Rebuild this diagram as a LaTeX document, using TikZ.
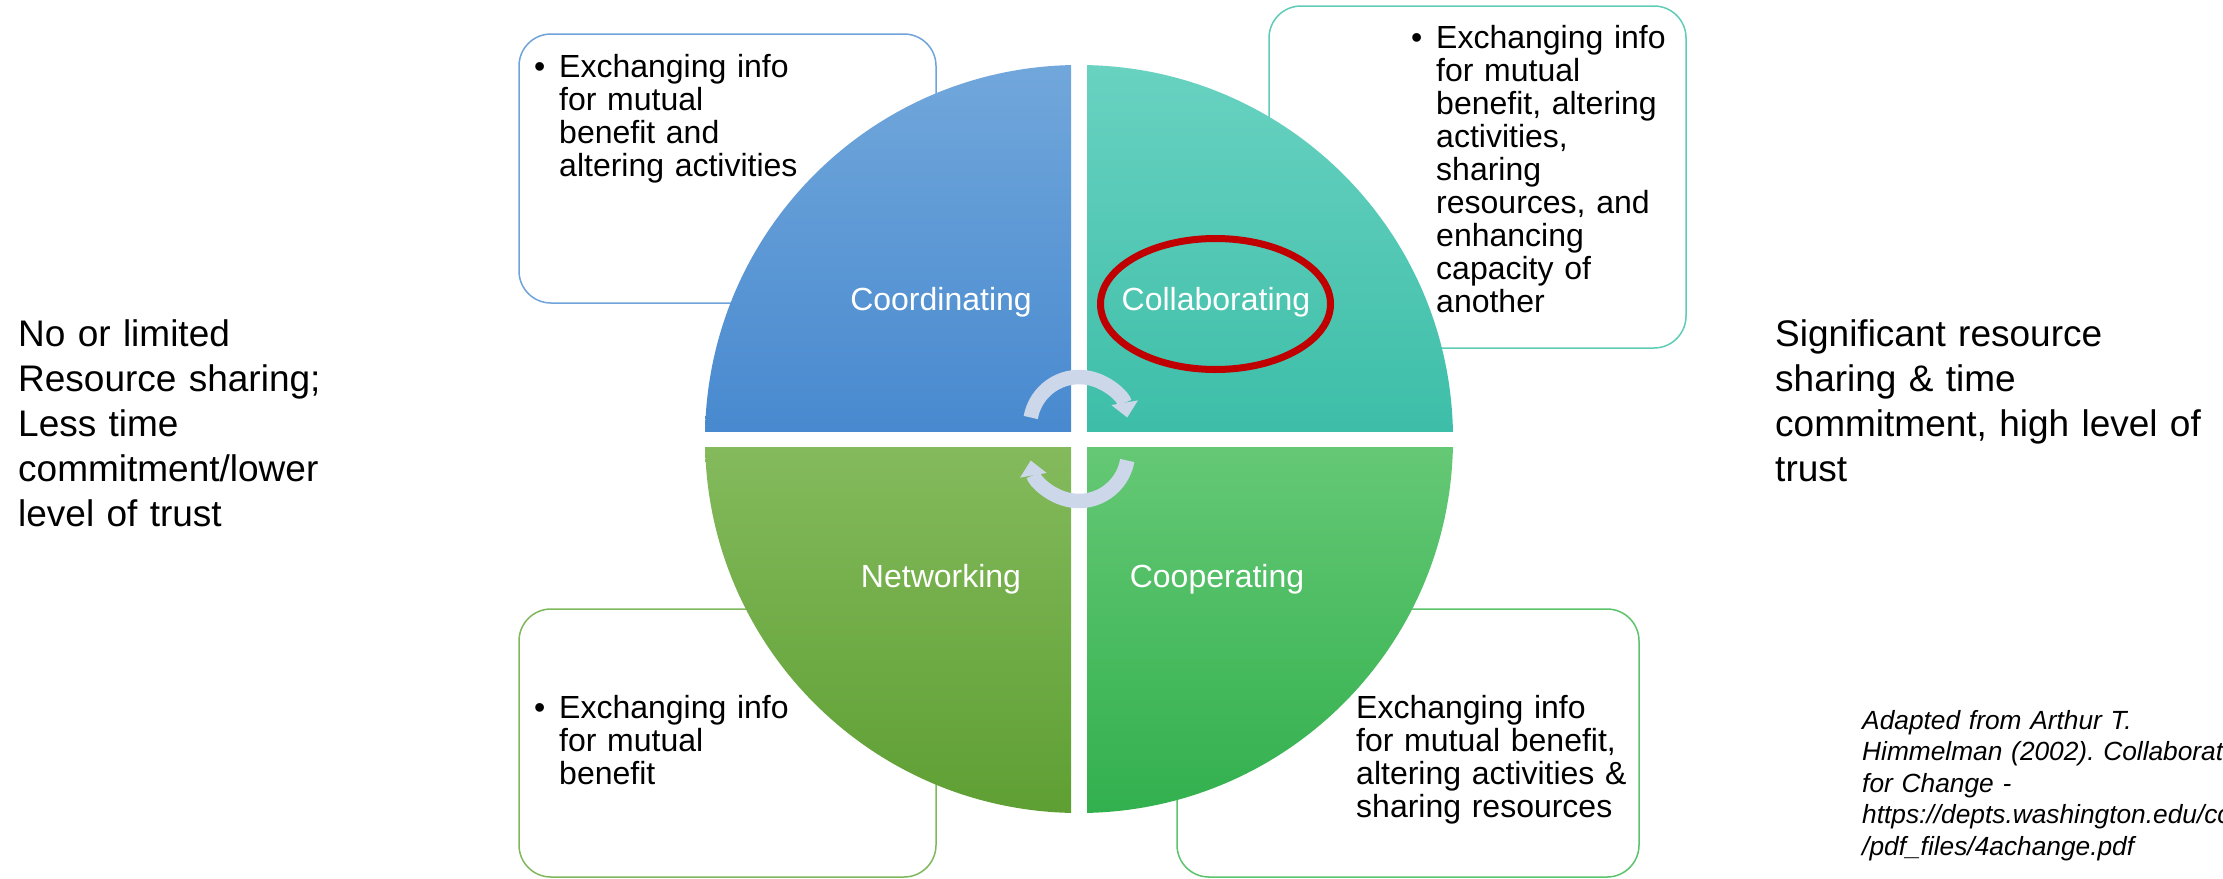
\documentclass[tikz,border=0pt]{standalone}
\usepackage{fontspec}
\setmainfont{Liberation Sans}
\usetikzlibrary{arrows.meta,positioning}
\frenchspacing

\definecolor{coordtop}{HTML}{71A7DB}
\definecolor{coordbot}{HTML}{4889CF}
\definecolor{collabtop}{HTML}{69D2C1}
\definecolor{collabbot}{HTML}{3DBEA8}
\definecolor{nettop}{HTML}{84BA5C}
\definecolor{netbot}{HTML}{5E9F33}
\definecolor{cooptop}{HTML}{65C875}
\definecolor{coopbot}{HTML}{32B04E}
\definecolor{coordline}{HTML}{6FA3DA}
\definecolor{collabline}{HTML}{5FCCB8}
\definecolor{netline}{HTML}{7FB85C}
\definecolor{coopline}{HTML}{5BC36C}
\definecolor{cyclegray}{HTML}{CCD8E9}
\definecolor{ringred}{HTML}{C00000}

\begin{document}
\begin{tikzpicture}
  [x=1pt,y=-1pt,
   infobox/.style={rounded corners=32pt,line width=1.5pt,fill=white,inner sep=0pt},
   infotext/.style={anchor=base west,align=left,text width=430pt,inner sep=0pt,
     font=\fontsize{32}{33}\selectfont},
   quadlabel/.style={anchor=base,text=white,inner sep=0pt,font=\fontsize{32}{38}\selectfont},
   sidetext/.style={anchor=base west,align=left,text width=460pt,inner sep=0pt,
     font=\fontsize{37}{45}\selectfont},
   sourcetext/.style={anchor=base west,align=left,text width=500pt,inner sep=0pt,
     font=\fontsize{26.3}{31.5}\selectfont\itshape},
   cyclearrow/.style={draw=cyclegray,line width=14.5pt,
     -{Triangle[width=27pt,length=15pt,line width=0pt]}}]
  \useasboundingbox (0,0) rectangle (2223,878);
  \clip (0,0) rectangle (2223,878);

  % boxes behind the circle
  \node[infobox,draw=coordline,minimum width=417pt,minimum height=269pt] (coordbox) at (727.5,168.5) {};
  \node[infobox,draw=collabline,minimum width=417pt,minimum height=342pt] (collabbox) at (1477.5,177) {};
  \node[infobox,draw=netline,minimum width=417pt,minimum height=268pt] (netbox) at (727.5,743) {};
  \node[infobox,draw=coopline,minimum width=462pt,minimum height=268pt] (coopbox) at (1408,743) {};

  % four quadrants
  \begin{scope}
    \clip (1079,439) circle[radius=374];
    \foreach \q/\xa/\ya/\xb/\yb in {coord/705/65/1071/431,collab/1087/65/1453/431,
                                   net/705/447/1071/813,coop/1087/447/1453/813}
      \shade[top color=\q top,bottom color=\q bot] (\xa,\ya) rectangle (\xb,\yb);
  \end{scope}

  % cycle arrows
  \draw[cyclearrow] (1079,426) ++(-170:49) arc[start angle=-170,end angle=-10,radius=49];
  \draw[cyclearrow] (1079,452) ++(10:49) arc[start angle=10,end angle=170,radius=49];

  \node[quadlabel] (coord) at (941,310) {Coordinating};
  \node[quadlabel] (collab) at (1216,310) {Collaborating};
  \node[quadlabel] (net) at (941,587) {Networking};
  \node[quadlabel] (coop) at (1217,587) {Cooperating};
  \draw[ringred,line width=7pt] (1215.5,304) ellipse[x radius=115,y radius=65.5];

  \node[infotext] (coordtext) at (559,77)
    {\llap{\textbullet\hspace{14pt}}Exchanging info\\for mutual\\benefit and\\altering activities};
  \node[infotext] (collabtext) at (1436,48)
    {\llap{\textbullet\hspace{14pt}}Exchanging info\\for mutual\\benefit, altering\\activities,\\sharing\\resources, and\\enhancing\\capacity of\\another};
  \node[infotext] (nettext) at (559,718)
    {\llap{\textbullet\hspace{14pt}}Exchanging info\\for mutual\\benefit};
  \node[infotext] (cooptext) at (1356,718)
    {Exchanging info\\for mutual benefit,\\altering activities \&\\sharing resources};

  \node[sidetext] (low) at (18,346)
    {No or limited\\Resource sharing;\\Less time\\commitment/lower\\level of trust};
  \node[sidetext] (high) at (1775,346)
    {Significant resource\\sharing \& time\\commitment, high level of\\trust};
  \node[sourcetext] (source) at (1862,729)
    {Adapted from Arthur T.\\Himmelman (2002). Collaboration\\for Change -\\https://depts.washington.edu/ccph\\/pdf\_files/4achange.pdf};
\end{tikzpicture}
\end{document}
